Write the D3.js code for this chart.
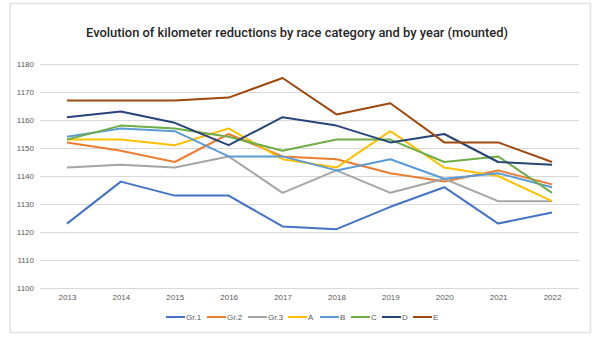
<!DOCTYPE html>
<html>
<head>
<meta charset="utf-8">
<script src="https://cdn.jsdelivr.net/npm/d3@7"></script>
<style>
  html, body { margin: 0; padding: 0; background: #fff; }
  svg { display: block; }
</style>
</head>
<body>
<svg id="chart" width="600" height="338"></svg>
<script>
// Years on the x axis
const years = ["2013", "2014", "2015", "2016", "2017", "2018", "2019", "2020", "2021", "2022"];

// Kilometer reductions per category
const gr1 = [1123, 1138, 1133, 1133, 1122, 1121, 1129, 1136, 1123, 1127];
const gr2 = [1152, 1149, 1145, 1155, 1147, 1146, 1141, 1138, 1142, 1137];
const gr3 = [1143, 1144, 1143, 1147, 1134, 1142, 1134, 1139, 1131, 1131];
const catA = [1153, 1153, 1151, 1157, 1146, 1143, 1156, 1143, 1140, 1131];
const catB = [1154, 1157, 1156, 1147, 1147, 1142, 1146, 1139, 1141, 1136];
const catC = [1153, 1158, 1157, 1154, 1149, 1153, 1153, 1145, 1147, 1134];
const catD = [1161, 1163, 1159, 1151, 1161, 1158, 1152, 1155, 1145, 1144];
const catE = [1167, 1167, 1167, 1168, 1175, 1162, 1166, 1152, 1152, 1145];

const seriesNames = ["Gr.1", "Gr.2", "Gr.3", "A", "B", "C", "D", "E"];
const seriesValues = [gr1, gr2, gr3, catA, catB, catC, catD, catE];
const seriesColors = ["#4472C4", "#ED7D31", "#A5A5A5", "#FFC000", "#5B9BD5", "#70AD47", "#264478", "#9E480E"];

// Y axis ticks
const yTicks = [1100, 1110, 1120, 1130, 1140, 1150, 1160, 1170, 1180];

const svg = d3.select("#chart");

// Chart frame
svg.append("rect")
  .attr("x", 10).attr("y", 3.5)
  .attr("width", 580.5).attr("height", 329)
  .attr("fill", "#fff")
  .attr("stroke", "#e3e3e3")
  .attr("stroke-width", 1.5);

// Title
svg.append("text")
  .attr("x", 297).attr("y", 37)
  .attr("text-anchor", "middle")
  .attr("font-family", "Roboto, 'Open Sans', sans-serif")
  .attr("font-weight", 500)
  .attr("font-size", 13)
  .attr("fill", "#262626")
  .attr("textLength", 422)
  .attr("lengthAdjust", "spacingAndGlyphs")
  .text("Evolution of kilometer reductions by race category and by year (mounted)");

const plot = { left: 40, right: 579, top: 64, bottom: 288 };

const x = d3.scalePoint()
  .domain(years)
  .range([plot.left, plot.right])
  .padding(0.5);

const y = d3.scaleLinear()
  .domain([1100, 1180])
  .range([plot.bottom, plot.top]);

// Horizontal gridlines
svg.append("g")
  .selectAll("line")
  .data(yTicks)
  .join("line")
  .attr("x1", plot.left).attr("x2", plot.right)
  .attr("y1", d => y(d) + 0.5).attr("y2", d => y(d) + 0.5)
  .attr("stroke", "#d9d9d9")
  .attr("stroke-width", 1);

// Y axis labels
const yAxis = svg.append("g")
  .attr("transform", `translate(${plot.left - 6},0)`)
  .call(d3.axisLeft(y).tickValues(yTicks).tickSize(0).tickPadding(0).tickFormat(d3.format("d")));
yAxis.select(".domain").remove();
yAxis.selectAll("text")
  .attr("font-family", "'Liberation Sans', Arial, sans-serif")
  .attr("font-size", 8)
  .attr("fill", "#595959");

// X axis labels
const xAxis = svg.append("g")
  .attr("transform", `translate(0,${plot.bottom + 5})`)
  .call(d3.axisBottom(x).tickSize(0).tickPadding(0));
xAxis.select(".domain").remove();
xAxis.selectAll("text")
  .attr("font-family", "'Liberation Sans', Arial, sans-serif")
  .attr("font-size", 8)
  .attr("fill", "#595959")
  .attr("dy", "0.9em");

// Series lines
const line = d3.line()
  .x((d, i) => x(years[i]))
  .y(d => y(d));

svg.append("g")
  .selectAll("path")
  .data(seriesValues)
  .join("path")
  .attr("d", d => line(d))
  .attr("fill", "none")
  .attr("stroke", (d, i) => seriesColors[i])
  .attr("stroke-width", 2)
  .attr("stroke-linejoin", "round");

// Legend
const legendX = [166, 207, 248, 288, 320, 351, 382, 413];
const legend = svg.append("g")
  .selectAll("g")
  .data(seriesNames)
  .join("g")
  .attr("transform", (d, i) => `translate(${legendX[i]},317)`);
legend.append("line")
  .attr("x1", 0).attr("x2", 19)
  .attr("y1", 0).attr("y2", 0)
  .attr("stroke", (d, i) => seriesColors[i])
  .attr("stroke-width", 2);
legend.append("text")
  .attr("x", 20).attr("y", 3)
  .attr("font-family", "'Liberation Sans', Arial, sans-serif")
  .attr("font-size", 8)
  .attr("fill", "#595959")
  .text(d => d);
</script>
</body>
</html>
